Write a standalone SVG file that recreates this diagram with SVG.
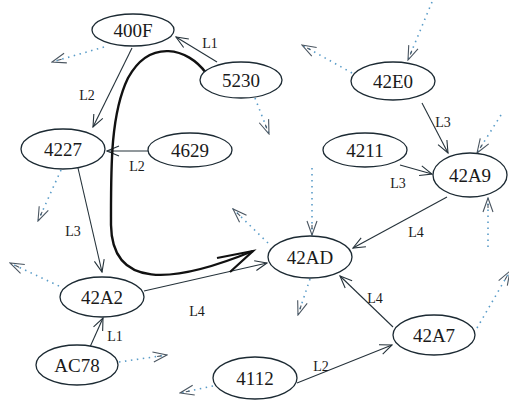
<svg xmlns="http://www.w3.org/2000/svg" width="509" height="403" viewBox="0 0 509 403">
<defs>
<style>
.node ellipse{fill:#fff;stroke:#1c2a33;stroke-width:1.3}
.node text{font-size:19px;fill:#1a1a1a;text-anchor:middle}
.e{stroke:#25323a;stroke-width:1.1;fill:none;marker-end:url(#vee)}
.d{stroke:#5a9cc8;stroke-width:1.6;stroke-dasharray:1.5 4.5;fill:none;marker-end:url(#dvee)}
.lbl{font-size:14px;fill:#1a1a1a;text-anchor:middle}
</style>
<marker id="vee" viewBox="0 0 14 12" refX="13" refY="6" markerWidth="14" markerHeight="12" markerUnits="userSpaceOnUse" orient="auto">
<path d="M1 1 L13 6 L1 11" fill="none" stroke="#25323a" stroke-width="1.1"/>
</marker>
<marker id="dvee" viewBox="0 0 16 12" refX="15" refY="6" markerWidth="16" markerHeight="12" markerUnits="userSpaceOnUse" orient="auto">
<path d="M1 1 L15 6 L1 11 M5 6 L9 6" fill="none" stroke="#4a5560" stroke-width="1.1"/>
</marker>
</defs>
<rect width="509" height="403" fill="#fff"/>
<g font-family="Liberation Serif, DejaVu Serif, serif">
<g id="connectors">
<path class="d" d="M104 47 L52 62"/>
<path class="d" d="M255 98 L269 134"/>
<path class="d" d="M352 73 L302 45"/>
<path class="d" d="M432 2 L408 60"/>
<path class="d" d="M501 115 L477 153"/>
<path class="d" d="M488 247 L488 198"/>
<path class="d" d="M61 170 L38 221"/>
<path class="d" d="M59 286 L10 263"/>
<path class="d" d="M119 362 L167 355"/>
<path class="d" d="M213 386 L180 393"/>
<path class="d" d="M312 168 L312 235"/>
<path class="d" d="M268 243 L233 209"/>
<path class="d" d="M310 279 L298 315"/>
<path class="d" d="M477 328 L510 271"/>
<path class="e" d="M217 62 L176 37"/>
<path class="e" d="M132 48 L93 127"/>
<path class="e" d="M148 151 L107 151"/>
<path class="e" d="M78 168 L102 272"/>
<path class="e" d="M90 347 L103 318"/>
<path class="e" d="M144 291 L267 263"/>
<path class="e" d="M422 103 L448 153"/>
<path class="e" d="M400 165 L432 174"/>
<path class="e" d="M447 197 L353 248"/>
<path class="e" d="M393 327 L340 276"/>
<path class="e" d="M297 383 L392 345"/>
<path d="M206 73 C188 48 150 38 128 78 C110 115 111 170 111 225 C112 288 170 285 253 251" fill="none" stroke="#111" stroke-width="2.4"/>
<path d="M217 258 L253 251 L230 272" fill="none" stroke="#111" stroke-width="2.2"/>
<text class="lbl" x="87" y="100">L2</text>
<text class="lbl" x="210" y="48">L1</text>
<text class="lbl" x="137" y="171">L2</text>
<text class="lbl" x="73" y="236">L3</text>
<text class="lbl" x="115" y="341">L1</text>
<text class="lbl" x="197" y="316">L4</text>
<text class="lbl" x="443" y="127">L3</text>
<text class="lbl" x="398" y="188">L3</text>
<text class="lbl" x="416" y="237">L4</text>
<text class="lbl" x="375" y="303">L4</text>
<text class="lbl" x="321" y="371">L2</text>
</g>
<g id="n400F" class="node"><ellipse cx="133" cy="30" rx="41" ry="16"/><text x="133" y="37">400F</text></g>
<g id="n5230" class="node"><ellipse cx="241" cy="80" rx="41" ry="18"/><text x="241" y="87">5230</text></g>
<g id="n42E0" class="node"><ellipse cx="393" cy="81" rx="42" ry="19"/><text x="393" y="88">42E0</text></g>
<g id="n4227" class="node"><ellipse cx="63" cy="149" rx="42" ry="20"/><text x="63" y="156">4227</text></g>
<g id="n4629" class="node"><ellipse cx="190" cy="150" rx="42" ry="17"/><text x="190" y="157">4629</text></g>
<g id="n4211" class="node"><ellipse cx="365" cy="150" rx="42" ry="17"/><text x="365" y="157">4211</text></g>
<g id="n42A9" class="node"><ellipse cx="470" cy="175" rx="37" ry="22"/><text x="470" y="182">42A9</text></g>
<g id="n42AD" class="node"><ellipse cx="310" cy="257" rx="42" ry="21"/><text x="310" y="264">42AD</text></g>
<g id="n42A2" class="node"><ellipse cx="102" cy="297" rx="42" ry="20"/><text x="102" y="304">42A2</text></g>
<g id="nAC78" class="node"><ellipse cx="77" cy="365" rx="41" ry="20"/><text x="77" y="372">AC78</text></g>
<g id="n42A7" class="node"><ellipse cx="434" cy="335" rx="41" ry="20"/><text x="434" y="342">42A7</text></g>
<g id="n4112" class="node"><ellipse cx="255" cy="378" rx="42" ry="21"/><text x="255" y="385">4112</text></g>
</g>
</svg>
